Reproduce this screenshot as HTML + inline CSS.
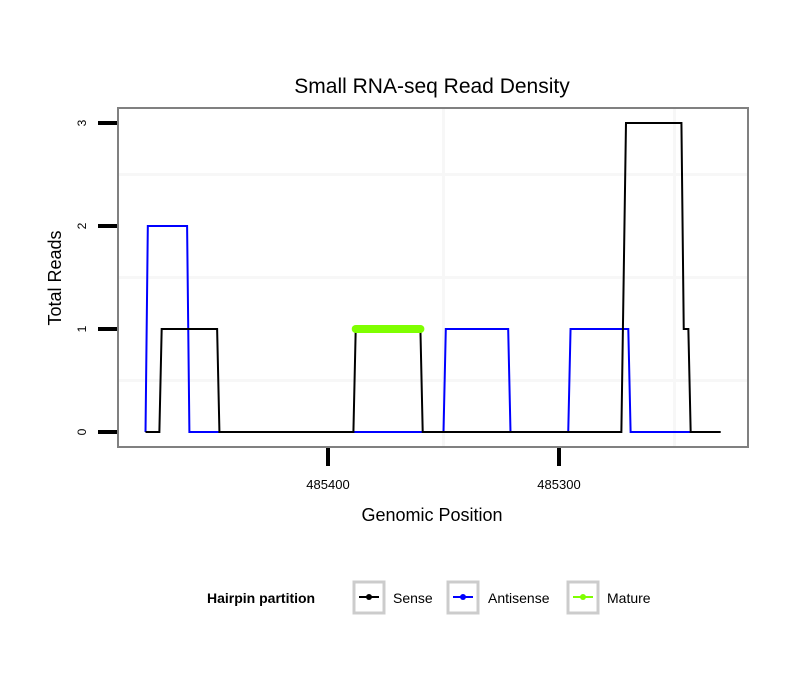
<!DOCTYPE html>
<html><head><meta charset="utf-8"><style>
body{margin:0;background:#fff;font-family:"Liberation Sans",sans-serif}
text{font-family:"Liberation Sans",sans-serif}
</style></head><body>
<svg id="chart" width="810" height="690">
<text x="432" y="93" text-anchor="middle" font-size="21">Small RNA-seq Read Density</text>
<rect x="118" y="108" width="630" height="339" fill="#fff" stroke="#808080" stroke-width="2"/>
<g id="grid"></g><g id="axes"></g><g id="series"></g>
<text x="432" y="521" text-anchor="middle" font-size="18">Genomic Position</text>
<text transform="translate(61,278) rotate(-90)" text-anchor="middle" font-size="18">Total Reads</text>
<g>
<text x="207" y="603" font-size="14" font-weight="bold">Hairpin partition</text>
<g><rect x="354" y="582" width="30" height="31" fill="#fff" stroke="#ccc" stroke-width="3"/><line x1="359" y1="597" x2="379" y2="597" stroke="#000" stroke-width="2"/><circle cx="369" cy="597" r="3" fill="#000"/><text x="393" y="603" font-size="14">Sense</text></g>
<g><rect x="448" y="582" width="30" height="31" fill="#fff" stroke="#ccc" stroke-width="3"/><line x1="453" y1="597" x2="473" y2="597" stroke="#00f" stroke-width="2"/><circle cx="463" cy="597" r="3" fill="#00f"/><text x="488" y="603" font-size="14">Antisense</text></g>
<g><rect x="568" y="582" width="30" height="31" fill="#fff" stroke="#ccc" stroke-width="3"/><line x1="573" y1="597" x2="593" y2="597" stroke="#7fff00" stroke-width="2"/><circle cx="583" cy="597" r="3" fill="#7fff00"/><text x="607" y="603" font-size="14">Mature</text></g>
</g>
</svg>
<script>
const xTicks=[485400,485300];
const yTicks=[0,1,2,3];
const senseX=[485479,485473,485472,485448,485447,485389,485388,485360,485359,485273,485271,485247,485246,485244,485243,485230];
const senseY=[0,0,1,1,0,0,1,1,0,0,3,3,1,1,0,0];
const antiX=[485479,485478,485461,485460,485350,485349,485322,485321,485296,485295,485270,485269,485243];
const antiY=[0,2,2,0,0,1,1,0,0,1,1,0,0];
const matureX=[485388,485360];
const matureY=[1,1];
const NS="http://www.w3.org/2000/svg";
const xs=v=>328-(v-485400)*2.31;
const ys=v=>432-v*103;
function mk(tag,attrs,parent){const e=document.createElementNS(NS,tag);for(const k in attrs)e.setAttribute(k,attrs[k]);document.getElementById(parent).appendChild(e);return e;}
[0.5,1.5,2.5].forEach(v=>{const l=mk('line',{x1:119,x2:747,y1:ys(v),y2:ys(v),stroke:'#f7f7f7','stroke-width':3},'grid');

});
[485350,485250].forEach(v=>{const l=mk('line',{x1:xs(v),x2:xs(v),y1:109,y2:446,stroke:'#f7f7f7','stroke-width':3},'grid');

});
yTicks.forEach(v=>{const t=mk('line',{x1:98,x2:117,y1:ys(v),y2:ys(v),stroke:'#000','stroke-width':4},'axes');


const tx=mk('text',{transform:`translate(86,${ys(v)}) rotate(-90)`,'text-anchor':'middle','font-size':12},'axes');tx.textContent=v;

});
xTicks.forEach(v=>{const t=mk('line',{x1:xs(v),x2:xs(v),y1:448,y2:466,stroke:'#000','stroke-width':4},'axes');


const tx=mk('text',{x:xs(v),y:489,'text-anchor':'middle','font-size':13},'axes');tx.textContent=v;

});
const pts=(X,Y)=>X.map((x,i)=>xs(x)+','+ys(Y[i])).join(' ');
const a=mk('polyline',{points:pts(antiX,antiY),fill:'none',stroke:'#00f','stroke-width':2},'series');


const s=mk('polyline',{points:pts(senseX,senseY),fill:'none',stroke:'#000','stroke-width':2},'series');


const m=mk('polyline',{points:pts(matureX,matureY),fill:'none',stroke:'#7fff00','stroke-width':8,'stroke-linecap':'round'},'series');


</script>
</body></html>
